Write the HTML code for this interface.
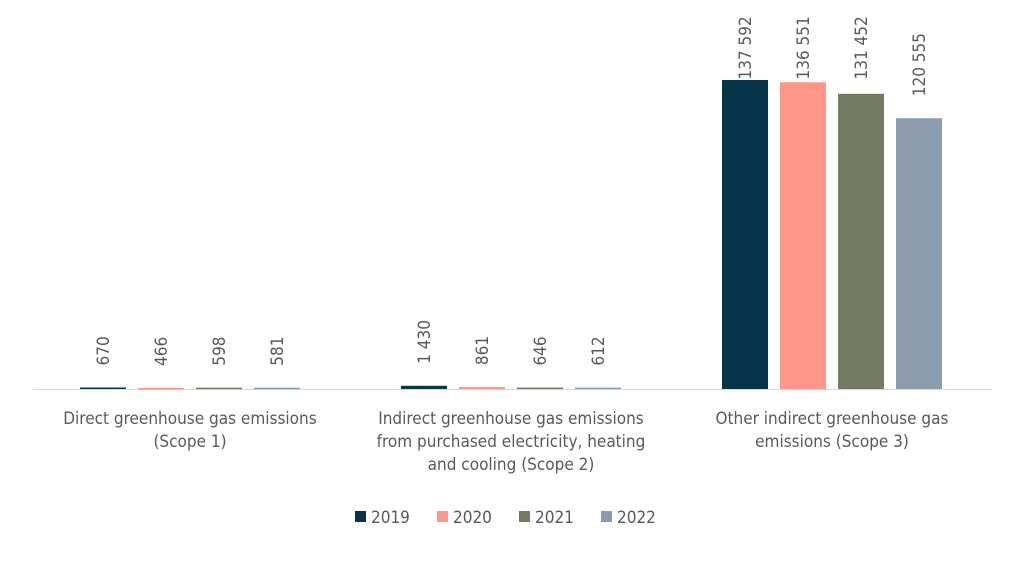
<!DOCTYPE html>
<html><head><meta charset="utf-8"><style>
body{margin:0;background:#fff;}
svg text{font-family:"DejaVu Sans Condensed","Liberation Sans",sans-serif;fill:#595959;}
</style></head><body>
<svg width="1024" height="557" id="chart"></svg>
<script>
const categories=[["Direct greenhouse gas emissions","(Scope 1)"],["Indirect greenhouse gas emissions","from purchased electricity, heating","and cooling (Scope 2)"],["Other indirect greenhouse gas","emissions (Scope 3)"]];
const years=["2019","2020","2021","2022"];
const s2019=[670,1430,137592];
const s2020=[466,861,136551];
const s2021=[598,646,131452];
const s2022=[581,612,120555];
const valueLabels=[["670","466","598","581"],["1 430","861","646","612"],["137 592","136 551","131 452","120 555"]];
const colors=["#06354a","#fe968a","#737c62","#8a9cae"];
const series=[s2019,s2020,s2021,s2022];
const svg=document.getElementById('chart');const NS="http://www.w3.org/2000/svg";
function mk(t,a,p){const e=document.createElementNS(NS,t);for(const k in a)e.setAttribute(k,a[k]);(p||svg).appendChild(e);return e;}
const base=389,top0=80,maxV=137592;
function y(v){return base-(base-top0)*v/maxV;}
function gx(i){return 190+321*i;}
const axis=mk('line',{x1:33,x2:992,y1:base+0.5,y2:base+0.5,stroke:'#d9d9d9','stroke-width':1});


categories.forEach((c,i)=>{
 series.forEach((s,j)=>{
  const x=gx(i)-110+58*j;const yt=y(s[i]);
  const r=mk('rect',{x:x,y:yt,width:46,height:Math.max(base-yt,1.5),fill:colors[j]});
  
  
  let bottom=yt-22;const len=valueLabels[i][j].length*10.5;
  if(bottom-len<6)bottom=len+6;
  const t=mk('text',{x:0,y:0,'font-size':17,transform:`translate(${x+29},${bottom}) rotate(-90)`});
  t.textContent=valueLabels[i][j];
  
  
 });
 c.forEach((line,k)=>{
  const t=mk('text',{x:gx(i),y:424+23*k,'font-size':17,'text-anchor':'middle'});
  t.textContent=line;
  
  
 });
});
years.forEach((yr,j)=>{
 const x=355+82*j;
 const r=mk('rect',{x:x,y:511,width:11,height:11,fill:colors[j]});
 
 
 const t=mk('text',{x:x+16,y:523,'font-size':17});
 t.textContent=yr;
 
 
});
</script>
</body></html>
